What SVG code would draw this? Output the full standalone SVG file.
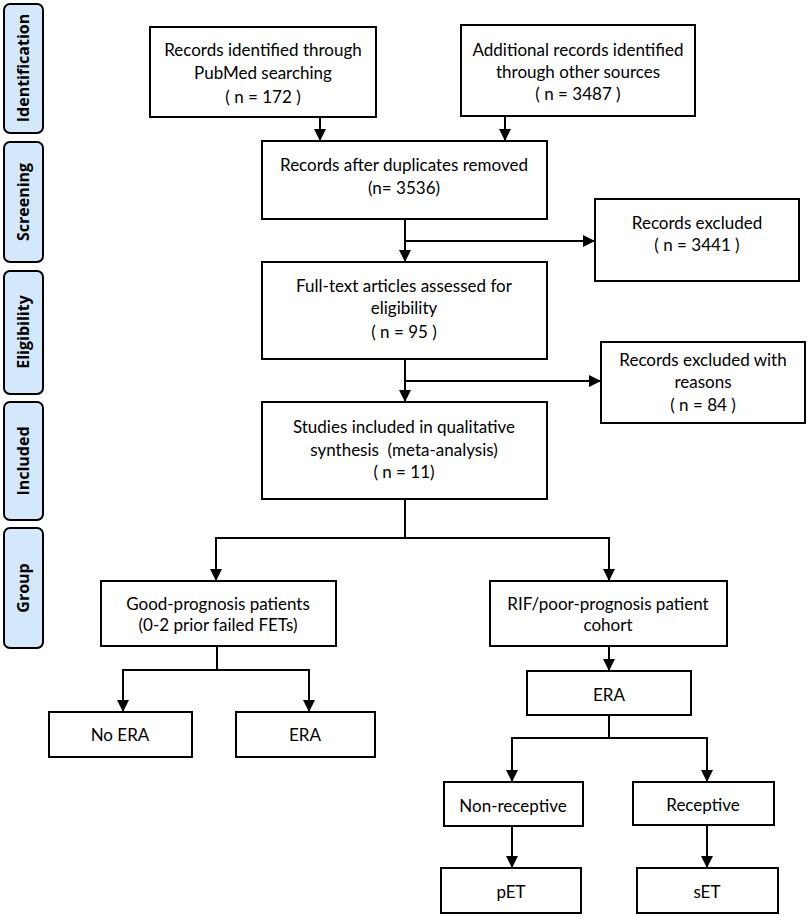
<svg xmlns="http://www.w3.org/2000/svg" width="809" height="917" viewBox="0 0 809 917">
<defs>
<marker id="arr" markerUnits="userSpaceOnUse" markerWidth="14" markerHeight="14" refX="12" refY="6" orient="auto">
<path d="M0,0 L12,6 L0,12 Z" fill="#000"/>
</marker>
<style>
.box{fill:#fff;stroke:#000;stroke-width:2}
.side{fill:#d3e8fa;stroke:#000;stroke-width:2}
.t{font-family:Lato,"Open Sans",sans-serif;font-size:17px;fill:#000;text-anchor:middle}
.s{font-family:"Open Sans",Lato,sans-serif;font-size:16px;font-weight:bold;fill:#000;text-anchor:middle}
.c{fill:none;stroke:#000;stroke-width:2}
.a{fill:none;stroke:#000;stroke-width:2;marker-end:url(#arr)}
</style>
</defs>
<rect width="809" height="917" fill="#fff"/>
<g id="side-labels">
<g id="lbl-identification"><rect class="side" x="4" y="4" width="39" height="129" rx="6"/><text class="s" transform="translate(29,68) rotate(-90)">Identification</text></g>
<g id="lbl-screening"><rect class="side" x="4" y="142" width="39" height="120" rx="6"/><text class="s" transform="translate(29,202) rotate(-90)">Screening</text></g>
<g id="lbl-eligibility"><rect class="side" x="4" y="271" width="39" height="123" rx="6"/><text class="s" transform="translate(29,332) rotate(-90)">Eligibility</text></g>
<g id="lbl-included"><rect class="side" x="4" y="402" width="39" height="118" rx="6"/><text class="s" transform="translate(29,461) rotate(-90)">Included</text></g>
<g id="lbl-group"><rect class="side" x="4" y="528" width="39" height="120" rx="6"/><text class="s" transform="translate(29,588) rotate(-90)">Group</text></g>
</g>
<g id="connectors">
<line class="a" x1="320" y1="117" x2="320" y2="141"/>
<line class="a" x1="505" y1="116" x2="505" y2="141"/>
<line class="a" x1="405" y1="219" x2="405" y2="262"/>
<line class="a" x1="405" y1="241" x2="595" y2="241"/>
<line class="a" x1="405" y1="359" x2="405" y2="402"/>
<line class="a" x1="405" y1="381" x2="601" y2="381"/>
<line class="c" x1="405" y1="499" x2="405" y2="538"/>
<line class="c" x1="215" y1="538" x2="610" y2="538"/>
<line class="a" x1="216" y1="537" x2="216" y2="581"/>
<line class="a" x1="609" y1="537" x2="609" y2="581"/>
<line class="c" x1="217" y1="646" x2="217" y2="670"/>
<line class="c" x1="122" y1="670" x2="310" y2="670"/>
<line class="a" x1="123" y1="669" x2="123" y2="712"/>
<line class="a" x1="309" y1="669" x2="309" y2="712"/>
<line class="a" x1="609" y1="646" x2="609" y2="671"/>
<line class="c" x1="609" y1="715" x2="609" y2="738"/>
<line class="c" x1="511" y1="738" x2="708" y2="738"/>
<line class="a" x1="512" y1="737" x2="512" y2="782"/>
<line class="a" x1="707" y1="737" x2="707" y2="782"/>
<line class="a" x1="512" y1="826" x2="512" y2="868"/>
<line class="a" x1="707" y1="825" x2="707" y2="868"/>
</g>
<g id="n-pubmed"><rect class="box" x="150" y="27" width="226" height="90"/>
<text class="t" x="263" y="56">Records identified through</text><text class="t" x="263" y="79">PubMed searching</text><text class="t" x="263" y="103">( n = 172 )</text></g>
<g id="n-other"><rect class="box" x="461" y="25" width="234" height="91"/>
<text class="t" x="578" y="56">Additional records identified</text><text class="t" x="578" y="78">through other sources</text><text class="t" x="578" y="100">( n = 3487 )</text></g>
<g id="n-dedup"><rect class="box" x="262" y="141" width="285" height="78"/>
<text class="t" x="404" y="171">Records after duplicates removed</text><text class="t" x="404" y="194">(n= 3536)</text></g>
<g id="n-excl1"><rect class="box" x="595" y="199" width="204" height="82"/>
<text class="t" x="697" y="229">Records excluded</text><text class="t" x="697" y="251">( n = 3441 )</text></g>
<g id="n-fulltext"><rect class="box" x="262" y="262" width="285" height="97"/>
<text class="t" x="404" y="292">Full-text articles assessed for</text><text class="t" x="404" y="314">eligibility</text><text class="t" x="404" y="338">( n = 95 )</text></g>
<g id="n-excl2"><rect class="box" x="601" y="342" width="204" height="81"/>
<text class="t" x="703" y="366">Records excluded with</text><text class="t" x="703" y="388">reasons</text><text class="t" x="703" y="411">( n = 84 )</text></g>
<g id="n-included"><rect class="box" x="262" y="402" width="285" height="97"/>
<text class="t" x="404" y="433">Studies included in qualitative</text><text class="t" x="404" y="456">synthesis &#160;(meta-analysis)</text><text class="t" x="404" y="478">( n = 11)</text></g>
<g id="n-good"><rect class="box" x="101" y="581" width="235" height="65"/>
<text class="t" x="218" y="610">Good-prognosis patients</text><text class="t" x="218" y="631">(0-2 prior failed FETs)</text></g>
<g id="n-rif"><rect class="box" x="490" y="581" width="237" height="65"/>
<text class="t" x="608" y="610">RIF/poor-prognosis patient</text><text class="t" x="608" y="631">cohort</text></g>
<g id="n-noera"><rect class="box" x="49" y="712" width="143" height="45"/><text class="t" x="120" y="741">No ERA</text></g>
<g id="n-era-good"><rect class="box" x="236" y="712" width="139" height="45"/><text class="t" x="305" y="741">ERA</text></g>
<g id="n-era-rif"><rect class="box" x="527" y="671" width="164" height="44"/><text class="t" x="609" y="701">ERA</text></g>
<g id="n-nonrec"><rect class="box" x="444" y="782" width="139" height="44"/><text class="t" x="513" y="812">Non-receptive</text></g>
<g id="n-rec"><rect class="box" x="633" y="782" width="141" height="43"/><text class="t" x="703" y="811">Receptive</text></g>
<g id="n-pet"><rect class="box" x="441" y="868" width="140" height="45"/><text class="t" x="511" y="898">pET</text></g>
<g id="n-set"><rect class="box" x="637" y="868" width="141" height="45"/><text class="t" x="707" y="898">sET</text></g>
</svg>
